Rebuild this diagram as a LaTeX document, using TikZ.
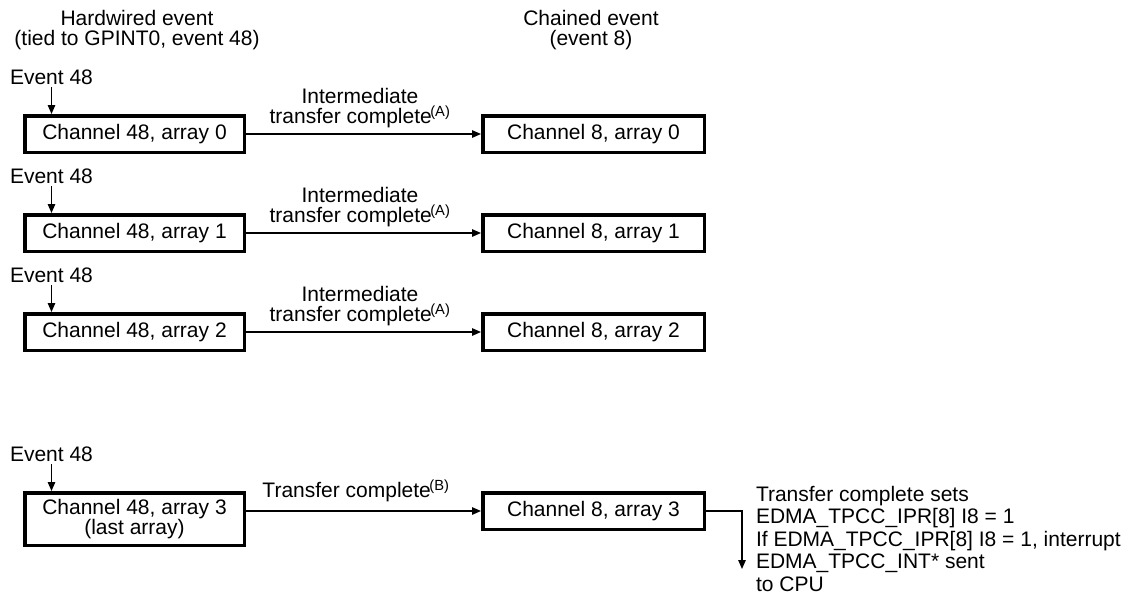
\documentclass[tikz,border=0pt]{standalone}
\usepackage{fontspec}
\setmainfont{Liberation Sans}
\usetikzlibrary{arrows.meta}
\begin{document}
\begin{tikzpicture}[x=1pt,y=-1pt,
  every node/.style={font=\fontsize{21}{20.5}\selectfont, inner sep=0pt, outer sep=0pt},
  box/.style={draw, line width=3.5pt, minimum height=36.5pt, align=center, outer sep=1.75pt},
  lbox/.style={box, minimum width=219.5pt},
  rbox/.style={box, minimum width=221.5pt},
  arr/.style={-{Triangle[length=9pt,width=7.5pt]}, line width=1.3pt},
  lbl/.style={align=center, anchor=south},
  note/.style={align=left, anchor=north west, font=\fontsize{21}{22.5}\selectfont}
]
\useasboundingbox (0,0) rectangle (1133,598);

\node[align=center] (h1) at (137,30) {Hardwired event\\(tied to GPINT0, event 48)};
\node[align=center] (h2) at (591,30) {Chained event\\(event 8)};

\foreach \i/\y in {0/134,1/233,2/332}{
  \node[lbox] (l\i) at (134.5,\y) {Channel 48, array \i};
  \node[rbox] (r\i) at (593.5,\y) {Channel 8, array \i};
  \node (e\i) at (51.5,\y-57) {Event 48};
  \draw[arr] ([yshift=-3pt]e\i.south) -- (e\i.south |- l\i.north);
  \draw[arr] (l\i.east) -- (r\i.west);
  \node[lbl] (t\i) at (360,\y-6) {Intermediate\\transfer complete\kern-1.5pt\textsuperscript{(A)}};
}

\node[lbox, minimum height=52.5pt] (l3) at (134.5,519) {Channel 48, array 3\\(last array)};
\node[rbox] (r3) at (593.5,511) {Channel 8, array 3};
\node (e3) at (51.5,454) {Event 48};
\draw[arr] ([yshift=-3pt]e3.south) -- (e3.south |- l3.north);
\draw[arr] (l3.east |- r3.west) -- (r3.west);
\node[lbl] (t3) at (356,502) {Transfer complete\kern-1.5pt\textsuperscript{(B)}};

\node[note] (n) at (756,486) {Transfer complete sets\\EDMA\_TPCC\_IPR[8] I8 = 1\\If EDMA\_TPCC\_IPR[8] I8 = 1, interrupt\\EDMA\_TPCC\_INT* sent\\to CPU};
\coordinate (bend) at (742,511);
\coordinate (tip) at (742,569);
\draw[arr] (r3.east) -- (bend) -- (tip);
\end{tikzpicture}
\end{document}
